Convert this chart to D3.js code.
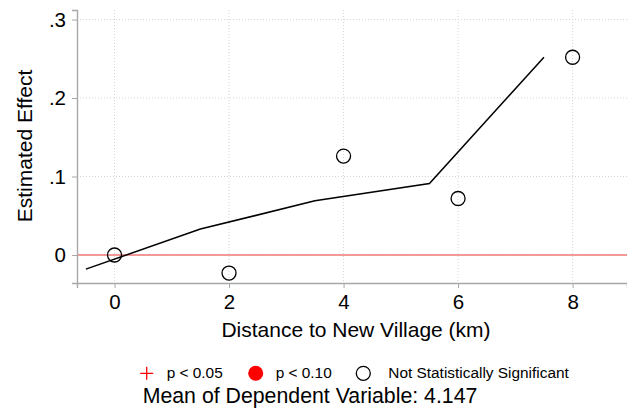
<!DOCTYPE html>
<html>
<head>
<meta charset="utf-8">
<script src="https://cdn.jsdelivr.net/npm/d3@7"></script>
<style>
  html, body { margin: 0; padding: 0; background: #fff; }
  svg { display: block; font-family: "Liberation Sans", Arial, Helvetica, sans-serif; }
</style>
</head>
<body>
<svg id="chart" width="627" height="412"></svg>
<script>
// Point estimates by distance bin (km)
const distances = [0, 2, 4, 6, 8];
const estimates = [0.000, -0.023, 0.126, 0.072, 0.252];
const significance = ["ns", "ns", "ns", "ns", "ns"];

// Fitted trend line
const fitX = [-0.5, 1.5, 3.5, 5.5, 7.5];
const fitY = [-0.018, 0.033, 0.069, 0.091, 0.252];

const xTicks = [0, 2, 4, 6, 8];
const yTicks = [0, 0.1, 0.2, 0.3];
const yTickLabels = ["0", ".1", ".2", ".3"];

const legendItems = [
  { key: "p05", label: "p < 0.05" },
  { key: "p10", label: "p < 0.10" },
  { key: "ns",  label: "Not Statistically Significant" }
];
const meanDependent = "4.147";

const svg = d3.select("#chart");
const plotLeft = 77, plotRight = 627, plotTop = 10, plotBottom = 283;

const x = d3.scaleLinear().domain([-0.655, 8.95]).range([plotLeft, plotRight]);
const y = d3.scaleLinear().domain([-0.0357, 0.3122]).range([plotBottom, plotTop]);

// Gridlines (dotted)
const grid = svg.append("g");
grid.selectAll("line.gy").data(yTicks).join("line")
  .attr("x1", plotLeft).attr("x2", plotRight)
  .attr("y1", d => y(d)).attr("y2", d => y(d))
  .attr("stroke", "#d4d4d4").attr("stroke-width", 1).attr("stroke-dasharray", "1,2");
grid.selectAll("line.gx").data(xTicks).join("line")
  .attr("x1", d => x(d)).attr("x2", d => x(d))
  .attr("y1", plotTop).attr("y2", plotBottom)
  .attr("stroke", "#d4d4d4").attr("stroke-width", 1).attr("stroke-dasharray", "1,2");

// Zero reference line
svg.append("line")
  .attr("x1", plotLeft).attr("x2", plotRight)
  .attr("y1", y(0)).attr("y2", y(0))
  .attr("stroke", "#f07878").attr("stroke-width", 1.6);

// Axes
const xAxis = svg.append("g").attr("transform", `translate(0,${plotBottom})`)
  .call(d3.axisBottom(x).tickValues(xTicks).tickSize(5).tickPadding(6).tickFormat(d3.format("d")));
const yAxis = svg.append("g").attr("transform", `translate(${plotLeft},0)`)
  .call(d3.axisLeft(y).tickValues(yTicks).tickSize(5).tickPadding(6)
    .tickFormat((d, i) => yTickLabels[i]));
[xAxis, yAxis].forEach(g => {
  g.select(".domain").attr("stroke", "#a8a8a8").attr("stroke-width", 1.4);
  g.selectAll(".tick line").attr("stroke", "#a8a8a8").attr("stroke-width", 1);
  g.selectAll(".tick text").attr("fill", "#000").attr("font-size", 20.5)
    .attr("font-family", "'Liberation Sans', Arial, sans-serif");
});
xAxis.selectAll(".tick text").attr("dy", "0.75em");

// Axis titles
svg.append("text").attr("x", 356).attr("y", 336.5)
  .attr("text-anchor", "middle").attr("font-size", 21).text("Distance to New Village (km)");
svg.append("text").attr("transform", `translate(31.5,146) rotate(-90)`)
  .attr("text-anchor", "middle").attr("font-size", 21).text("Estimated Effect");

// Fitted line
const fitData = fitX.map((d, i) => [d, fitY[i]]);
svg.append("path").datum(fitData)
  .attr("fill", "none").attr("stroke", "#000").attr("stroke-width", 1.5)
  .attr("d", d3.line().x(d => x(d[0])).y(d => y(d[1])));

// Estimate markers
const pts = distances.map((d, i) => ({ d, e: estimates[i], s: significance[i] }));
function drawMarker(g, kind, cx, cy) {
  if (kind === "p05") {
    g.append("path").attr("d", `M${cx - 6.5},${cy}H${cx + 6.5}M${cx},${cy - 6.5}V${cy + 6.5}`)
      .attr("stroke", "red").attr("stroke-width", 1.3).attr("fill", "none");
  } else if (kind === "p10") {
    g.append("circle").attr("cx", cx).attr("cy", cy).attr("r", 7.5).attr("fill", "red");
  } else {
    g.append("circle").attr("cx", cx).attr("cy", cy).attr("r", 7)
      .attr("fill", "none").attr("stroke", "#000").attr("stroke-width", 1.3);
  }
}
const markers = svg.append("g");
pts.forEach(p => drawMarker(markers, p.s, x(p.d), y(p.e)));

// Legend
const legendX = [146.7, 255.7, 363.3];
const legendTextX = [166.7, 275.7, 388.3];
const legend = svg.append("g");
legendItems.forEach((item, i) => {
  drawMarker(legend, item.key, legendX[i], 373.3);
  legend.append("text").attr("x", legendTextX[i]).attr("y", 378)
    .attr("font-size", 15.4).text(item.label);
});

// Mean of outcome note
svg.append("text").attr("x", 142.7).attr("y", 403.3).attr("font-size", 21.3)
  .text("Mean of Dependent Variable: " + meanDependent);
</script>
</body>
</html>
